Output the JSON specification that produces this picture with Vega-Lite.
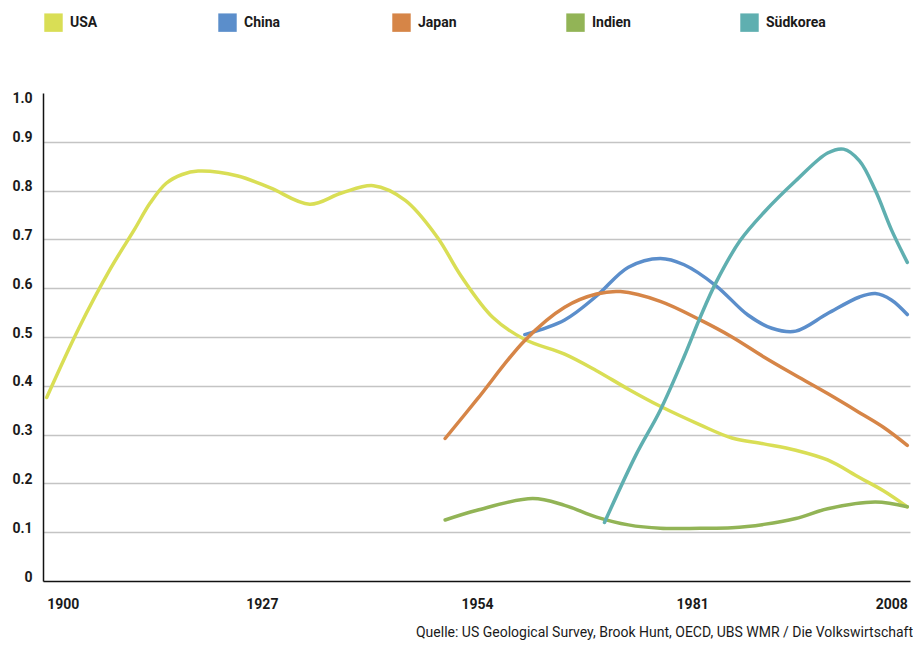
{
  "$schema": "https://vega.github.io/schema/vega-lite/v6.json",
  "autosize": "none",
  "width": 867,
  "height": 488,
  "padding": {"left": 43, "top": 93, "right": 3, "bottom": 65},
  "background": "white",
  "config": {
    "view": {"stroke": null},
    "font": "Roboto"
  },
  "title": {
    "text": "Quelle: US Geological Survey, Brook Hunt, OECD, UBS WMR / Die Volkswirtschaft",
    "orient": "bottom",
    "anchor": "end",
    "frame": "group",
    "font": "Roboto",
    "fontSize": 14,
    "fontWeight": "normal",
    "color": "#1a1a1a",
    "offset": 15,
    "dx": 3
  },
  "data": {
    "values": [
      {"Land": "USA", "Jahr": 1900, "Wert": 0.376},
      {"Land": "USA", "Jahr": 1904, "Wert": 0.517},
      {"Land": "USA", "Jahr": 1908, "Wert": 0.64},
      {"Land": "USA", "Jahr": 1911, "Wert": 0.72},
      {"Land": "USA", "Jahr": 1913, "Wert": 0.775},
      {"Land": "USA", "Jahr": 1915, "Wert": 0.815},
      {"Land": "USA", "Jahr": 1917, "Wert": 0.833},
      {"Land": "USA", "Jahr": 1919, "Wert": 0.84},
      {"Land": "USA", "Jahr": 1924, "Wert": 0.83},
      {"Land": "USA", "Jahr": 1928, "Wert": 0.806},
      {"Land": "USA", "Jahr": 1933, "Wert": 0.772},
      {"Land": "USA", "Jahr": 1937, "Wert": 0.795},
      {"Land": "USA", "Jahr": 1941, "Wert": 0.81},
      {"Land": "USA", "Jahr": 1945, "Wert": 0.78},
      {"Land": "USA", "Jahr": 1949, "Wert": 0.705},
      {"Land": "USA", "Jahr": 1952, "Wert": 0.625},
      {"Land": "USA", "Jahr": 1956, "Wert": 0.54},
      {"Land": "USA", "Jahr": 1960, "Wert": 0.495},
      {"Land": "USA", "Jahr": 1965, "Wert": 0.465},
      {"Land": "USA", "Jahr": 1969, "Wert": 0.431},
      {"Land": "USA", "Jahr": 1973, "Wert": 0.393},
      {"Land": "USA", "Jahr": 1977, "Wert": 0.358},
      {"Land": "USA", "Jahr": 1982, "Wert": 0.32},
      {"Land": "USA", "Jahr": 1986, "Wert": 0.293},
      {"Land": "USA", "Jahr": 1990, "Wert": 0.281},
      {"Land": "USA", "Jahr": 1994, "Wert": 0.268},
      {"Land": "USA", "Jahr": 1998, "Wert": 0.248},
      {"Land": "USA", "Jahr": 2002, "Wert": 0.212},
      {"Land": "USA", "Jahr": 2005, "Wert": 0.185},
      {"Land": "USA", "Jahr": 2008, "Wert": 0.152},

      {"Land": "China", "Jahr": 1960, "Wert": 0.505},
      {"Land": "China", "Jahr": 1965, "Wert": 0.535},
      {"Land": "China", "Jahr": 1969, "Wert": 0.584},
      {"Land": "China", "Jahr": 1973, "Wert": 0.643},
      {"Land": "China", "Jahr": 1977, "Wert": 0.661},
      {"Land": "China", "Jahr": 1980, "Wert": 0.648},
      {"Land": "China", "Jahr": 1984, "Wert": 0.605},
      {"Land": "China", "Jahr": 1988, "Wert": 0.545},
      {"Land": "China", "Jahr": 1991, "Wert": 0.518},
      {"Land": "China", "Jahr": 1994, "Wert": 0.512},
      {"Land": "China", "Jahr": 1998, "Wert": 0.548},
      {"Land": "China", "Jahr": 2002, "Wert": 0.582},
      {"Land": "China", "Jahr": 2004, "Wert": 0.589},
      {"Land": "China", "Jahr": 2006, "Wert": 0.576},
      {"Land": "China", "Jahr": 2008, "Wert": 0.546},

      {"Land": "Japan", "Jahr": 1950, "Wert": 0.292},
      {"Land": "Japan", "Jahr": 1954, "Wert": 0.372},
      {"Land": "Japan", "Jahr": 1960, "Wert": 0.493},
      {"Land": "Japan", "Jahr": 1965, "Wert": 0.561},
      {"Land": "Japan", "Jahr": 1969, "Wert": 0.588},
      {"Land": "Japan", "Jahr": 1972, "Wert": 0.593},
      {"Land": "Japan", "Jahr": 1977, "Wert": 0.573},
      {"Land": "Japan", "Jahr": 1982, "Wert": 0.535},
      {"Land": "Japan", "Jahr": 1986, "Wert": 0.5},
      {"Land": "Japan", "Jahr": 1990, "Wert": 0.459},
      {"Land": "Japan", "Jahr": 1994, "Wert": 0.421},
      {"Land": "Japan", "Jahr": 1998, "Wert": 0.384},
      {"Land": "Japan", "Jahr": 2002, "Wert": 0.345},
      {"Land": "Japan", "Jahr": 2005, "Wert": 0.315},
      {"Land": "Japan", "Jahr": 2008, "Wert": 0.278},

      {"Land": "Indien", "Jahr": 1950, "Wert": 0.125},
      {"Land": "Indien", "Jahr": 1954, "Wert": 0.145},
      {"Land": "Indien", "Jahr": 1961, "Wert": 0.169},
      {"Land": "Indien", "Jahr": 1965, "Wert": 0.155},
      {"Land": "Indien", "Jahr": 1969, "Wert": 0.131},
      {"Land": "Indien", "Jahr": 1973, "Wert": 0.115},
      {"Land": "Indien", "Jahr": 1977, "Wert": 0.108},
      {"Land": "Indien", "Jahr": 1982, "Wert": 0.108},
      {"Land": "Indien", "Jahr": 1986, "Wert": 0.109},
      {"Land": "Indien", "Jahr": 1990, "Wert": 0.116},
      {"Land": "Indien", "Jahr": 1994, "Wert": 0.128},
      {"Land": "Indien", "Jahr": 1998, "Wert": 0.148},
      {"Land": "Indien", "Jahr": 2004, "Wert": 0.162},
      {"Land": "Indien", "Jahr": 2008, "Wert": 0.152},

      {"Land": "Südkorea", "Jahr": 1970, "Wert": 0.12},
      {"Land": "Südkorea", "Jahr": 1974, "Wert": 0.26},
      {"Land": "Südkorea", "Jahr": 1977, "Wert": 0.35},
      {"Land": "Südkorea", "Jahr": 1980, "Wert": 0.46},
      {"Land": "Südkorea", "Jahr": 1982, "Wert": 0.54},
      {"Land": "Südkorea", "Jahr": 1984, "Wert": 0.612},
      {"Land": "Südkorea", "Jahr": 1987, "Wert": 0.697},
      {"Land": "Südkorea", "Jahr": 1990, "Wert": 0.755},
      {"Land": "Südkorea", "Jahr": 1994, "Wert": 0.82},
      {"Land": "Südkorea", "Jahr": 1998, "Wert": 0.877},
      {"Land": "Südkorea", "Jahr": 2000, "Wert": 0.885},
      {"Land": "Südkorea", "Jahr": 2002, "Wert": 0.861},
      {"Land": "Südkorea", "Jahr": 2004, "Wert": 0.8},
      {"Land": "Südkorea", "Jahr": 2006, "Wert": 0.72},
      {"Land": "Südkorea", "Jahr": 2008, "Wert": 0.653}
    ]
  },
  "mark": {"type": "line", "interpolate": "catmull-rom", "strokeWidth": 3.5, "strokeCap": "round"},
  "encoding": {
    "x": {
      "field": "Jahr",
      "type": "quantitative",
      "scale": {"domain": [1899.536, 2008.339], "nice": false, "zero": false},
      "axis": {
        "title": null,
        "values": [1900, 1927, 1954, 1981, 2008],
        "format": "d",
        "grid": false,
        "ticks": false,
        "tickSize": 0,
        "domainColor": "#111111",
        "domainWidth": 1.5,
        "labelFlush": 6,
        "labelPadding": 16,
        "labelBaseline": "top",
        "labelFontSize": 14,
        "labelFontWeight": "bold",
        "labelColor": "#1a1a1a"
      }
    },
    "y": {
      "field": "Wert",
      "type": "quantitative",
      "scale": {"domain": [0, 1], "nice": false},
      "axis": {
        "title": null,
        "values": [0, 0.1, 0.2, 0.3, 0.4, 0.5, 0.6, 0.7, 0.8, 0.9, 1],
        "labelExpr": "datum.value == 0 ? '0' : format(datum.value, '.1f')",
        "grid": true,
        "gridColor": "#c4c4c4",
        "gridWidth": 1.3,
        "gridOpacity": {"condition": {"test": "datum.value == 0 || datum.value == 1", "value": 0}, "value": 1},
        "ticks": false,
        "tickSize": 0,
        "domainColor": "#111111",
        "domainWidth": 1.5,
        "labelPadding": 11,
        "labelOffset": {"condition": {"test": "datum.value == 1", "value": 5}, "value": -4},
        "labelFontSize": 14,
        "labelFontWeight": "bold",
        "labelColor": "#1a1a1a"
      }
    },
    "color": {
      "field": "Land",
      "type": "nominal",
      "scale": {
        "domain": ["USA", "China", "Japan", "Indien", "Südkorea"],
        "range": ["#d9de55", "#5b8ecb", "#d68547", "#92b456", "#5fafb0"]
      },
      "legend": {
        "title": null,
        "orient": "none",
        "legendX": 1,
        "legendY": -80,
        "direction": "horizontal",
        "columns": 5,
        "gridAlign": "all",
        "columnPadding": 88,
        "padding": 0,
        "symbolType": "square",
        "symbolSize": 340,
        "symbolStrokeWidth": 0,
        "symbolOpacity": 1,
        "labelOffset": 7,
        "labelFontSize": 14,
        "labelFontWeight": "bold",
        "labelColor": "#1a1a1a",
        "encode": {
          "symbols": {
            "update": {
              "fill": {"scale": "color", "field": "value"},
              "fillOpacity": {"value": 1},
              "strokeWidth": {"value": 0}
            }
          }
        }
      }
    }
  }
}
